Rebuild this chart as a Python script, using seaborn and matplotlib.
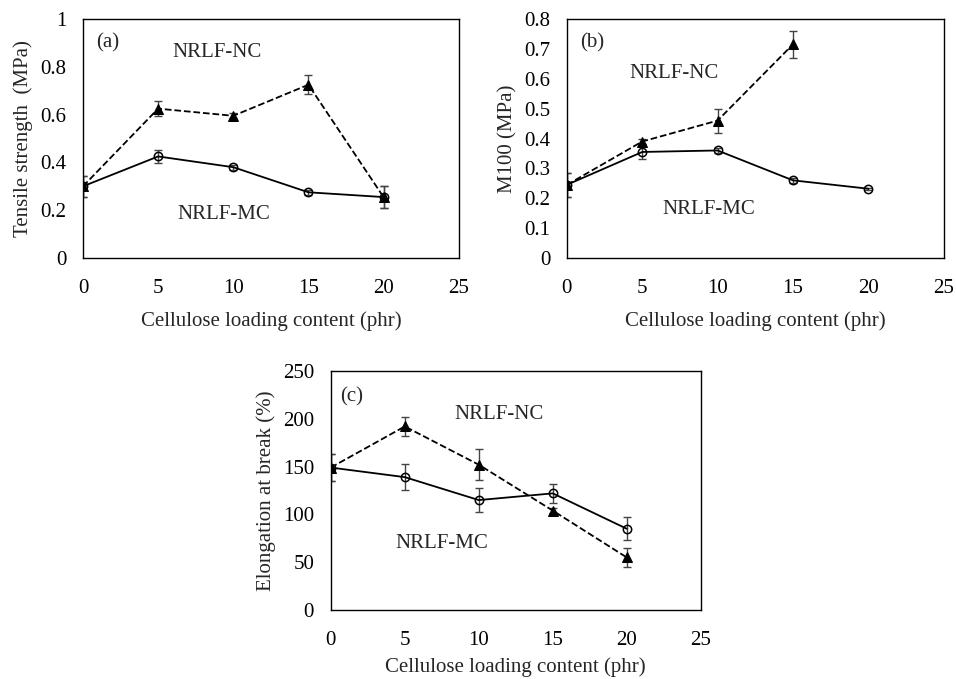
import numpy as np
import pandas as pd
import matplotlib
matplotlib.use('Agg')
import matplotlib.pyplot as plt
import seaborn as sns

# Cellulose loading (phr)
loading = [0, 5, 10, 15, 20]
loading_b_nc = [0, 5, 10, 15]

# (a) Tensile strength (MPa)
ts_nc = [0.30, 0.625, 0.595, 0.725, 0.255]
ts_nc_err = [0.045, 0.03, 0.01, 0.04, 0.045]
ts_mc = [0.30, 0.425, 0.38, 0.275, 0.255]
ts_mc_err = [0.045, 0.027, 0.01, 0.01, 0.045]

# (b) M100 (MPa)
m100_nc = [0.245, 0.39, 0.46, 0.715]
m100_nc_err = [0.04, 0.01, 0.04, 0.045]
m100_mc = [0.245, 0.355, 0.36, 0.26, 0.232]
m100_mc_err = [0.04, 0.025, 0.008, 0.008, 0.004]

# (c) Elongation at break (%)
eb_nc = [149, 192, 152, 104, 55]
eb_nc_err = [14, 10, 16, 3, 9.5]
eb_mc = [149, 139, 115, 122, 85]
eb_mc_err = [14, 13.5, 13, 10, 12]

sns.set_theme(style='white')
plt.rcParams['font.family'] = ['Liberation Serif', 'DejaVu Serif']
FS = 15


def draw_panel(ax, x_nc, nc, nc_err, x_mc, mc, mc_err, ylim, ystep, ylabel, tag, tag_xy, nc_xy, mc_xy,
               xpad=10):
    nc_df = pd.DataFrame({'x': x_nc, 'y': nc})
    mc_df = pd.DataFrame({'x': x_mc, 'y': mc})
    ax.errorbar(x_mc, mc, yerr=mc_err, fmt='none', ecolor='#444444', elinewidth=1, capsize=3, zorder=2)
    ax.errorbar(x_nc, nc, yerr=nc_err, fmt='none', ecolor='#444444', elinewidth=1, capsize=3, zorder=2)
    sns.lineplot(data=mc_df, x='x', y='y', ax=ax, color='black', lw=1.3, marker='o', markersize=6,
                 markerfacecolor='none', markeredgecolor='black', markeredgewidth=1.1, zorder=3)
    sns.lineplot(data=nc_df, x='x', y='y', ax=ax, color='black', lw=1.3, linestyle='--', marker='^',
                 markersize=7, markerfacecolor='black', markeredgecolor='black', zorder=4)
    ax.set_xlim(0, 25)
    ax.set_ylim(*ylim)
    ax.set_xticks(range(0, 26, 5))
    ax.set_yticks(np.arange(ylim[0], ylim[1] + ystep / 2, ystep))
    ax.yaxis.set_major_formatter(matplotlib.ticker.FuncFormatter(lambda v, p: f'{round(v, 2):g}'))
    ax.tick_params(axis='y', length=0, pad=12, labelsize=FS, colors='black')
    ax.tick_params(axis='x', length=0, pad=15, labelsize=FS, colors='black')
    for s in ax.spines.values():
        s.set_visible(True)
        s.set_color('black')
        s.set_linewidth(1.0)
    ax.set_xlabel('Cellulose loading content (phr)', fontsize=FS, labelpad=xpad)
    ax.set_ylabel(ylabel, fontsize=FS, labelpad=5)
    ax.text(*tag_xy, tag, fontsize=FS, ha='left', va='center')
    ax.text(*nc_xy, 'NRLF-NC', fontsize=FS, ha='center', va='center')
    ax.text(*mc_xy, 'NRLF-MC', fontsize=FS, ha='center', va='center')


fig = plt.figure(figsize=(9.56, 6.79), dpi=100)
ax_a = fig.add_axes([0.0868, 0.620, 0.393, 0.352])
ax_b = fig.add_axes([0.593, 0.620, 0.394, 0.352])
ax_c = fig.add_axes([0.346, 0.1016, 0.387, 0.352])

draw_panel(ax_a, loading, ts_nc, ts_nc_err, loading, ts_mc, ts_mc_err, (0, 1), 0.2,
           'Tensile strength  (MPa)', '(a)', (0.9, 0.9), (8.9, 0.86), (9.4, 0.18))
draw_panel(ax_b, loading_b_nc, m100_nc, m100_nc_err, loading, m100_mc, m100_mc_err, (0, 0.8), 0.1,
           'M100 (MPa)', '(b)', (0.9, 0.72), (7.1, 0.616), (9.4, 0.162))
draw_panel(ax_c, loading, eb_nc, eb_nc_err, loading, eb_mc, eb_mc_err, (0, 250), 50,
           'Elongation at break (%)', '(c)', (0.6, 223), (11.4, 205), (7.5, 70), xpad=5)

fig.savefig('out.png', dpi=100)
